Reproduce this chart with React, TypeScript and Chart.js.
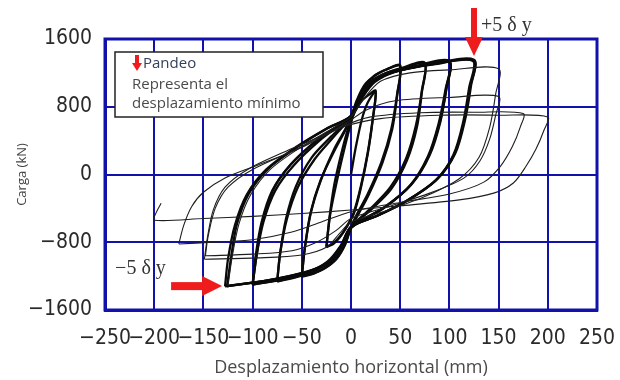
import { useEffect, useRef } from "react";
import { Chart, registerables } from "chart.js";

Chart.register(...registerables);

// ---------- axis ticks ----------
const xTicks = [-250, -200, -150, -100, -50, 0, 50, 100, 150, 200, 250];
const yTicks = [-1600, -800, 0, 800, 1600];

// ---------- labels ----------
const xTitle = "Desplazamiento horizontal (mm)";
const yTitle = "Carga (kN)";
const legendLines = ["Pandeo", "Representa el", "desplazamiento mínimo"];
const posLabel = "+5 δ y";
const negLabel = "−5 δ y";
const posMark = [125, 1400]; // arrow tip (mm, kN)
const negMark = [-131, -1318];

// ---------- hysteresis cycles (mm, kN) : bold, before buckling ----------
const c25a = [[0, 0], [5, 330], [11, 650], [17, 850], [25, 980], [22, 650], [17, 260], [10, -140], [3, -440], [-4, -610], [-11, -730], [-18, -810], [-25, -860]];
const c25b = [[-25, -860], [-22, -520], [-17, -120], [-10, 240], [-3, 540], [4, 740], [11, 870], [18, 940], [25, 990], [22, 640], [17, 240], [10, -160], [3, -460], [-5, -630], [-12, -750], [-18, -820], [-25, -850]];
const c50a = [[-25, -850], [-21, -460], [-14, -60], [-6, 340], [0, 610], [6, 830], [14, 1040], [24, 1170], [36, 1240], [50, 1290], [47, 960], [41, 540], [31, 150], [17, -230], [6, -470], [0, -620], [-6, -820], [-14, -980], [-26, -1100], [-38, -1170], [-50, -1210]];
const c50b = [[-50, -1210], [-47, -880], [-41, -460], [-31, -80], [-17, 300], [-6, 530], [0, 680], [6, 880], [14, 1060], [26, 1180], [38, 1250], [50, 1280], [47, 940], [42, 540], [32, 140], [18, -240], [7, -480], [0, -630], [-6, -830], [-15, -1000], [-27, -1110], [-39, -1170], [-50, -1200]];
const c75a = [[-50, -1200], [-47, -870], [-41, -450], [-31, -70], [-16, 300], [-5, 540], [0, 680], [7, 880], [16, 1060], [32, 1180], [52, 1260], [75, 1320], [72, 990], [66, 580], [56, 190], [40, -150], [20, -400], [0, -620], [-7, -820], [-16, -990], [-32, -1110], [-52, -1200], [-75, -1265]];
const c75b = [[-75, -1265], [-72, -930], [-66, -520], [-56, -140], [-40, 200], [-20, 450], [0, 680], [8, 890], [18, 1070], [34, 1190], [54, 1260], [75, 1310], [72, 970], [67, 560], [57, 170], [41, -170], [21, -410], [0, -630], [-8, -830], [-18, -1000], [-34, -1120], [-54, -1200], [-75, -1260]];
const c100a = [[-75, -1260], [-72, -930], [-65, -520], [-54, -150], [-37, 180], [-18, 440], [0, 685], [8, 890], [18, 1070], [36, 1190], [65, 1280], [100, 1340], [97, 1030], [91, 630], [80, 230], [62, -110], [35, -380], [0, -625], [-8, -830], [-18, -1000], [-36, -1120], [-65, -1220], [-100, -1295]];
const c100b = [[-100, -1295], [-97, -970], [-91, -570], [-80, -190], [-62, 110], [-35, 400], [0, 690], [9, 895], [20, 1080], [38, 1200], [67, 1280], [100, 1330], [97, 1010], [90, 610], [79, 220], [61, -120], [34, -390], [0, -630], [-9, -840], [-20, -1010], [-38, -1130], [-67, -1230], [-100, -1300]];
const c100c = [[-100, -1300], [-96, -960], [-90, -560], [-79, -180], [-61, 120], [-34, 410], [0, 690], [10, 900], [22, 1085], [40, 1200], [68, 1275], [100, 1325], [96, 1000], [89, 600], [78, 210], [60, -130], [33, -395], [0, -630], [-10, -845], [-22, -1020], [-40, -1140], [-68, -1235], [-100, -1300]];
const c125a = [[-100, -1300], [-96, -960], [-89, -560], [-77, -190], [-58, 110], [-30, 420], [0, 690], [9, 890], [20, 1080], [40, 1200], [80, 1300], [125, 1355], [122, 1050], [116, 650], [106, 250], [88, -50], [58, -300], [28, -480], [0, -620], [-9, -830], [-20, -1010], [-40, -1130], [-80, -1240], [-128, -1320]];
const c125b = [[-128, -1320], [-125, -1000], [-118, -600], [-106, -240], [-86, 60], [-55, 330], [-25, 540], [0, 690], [10, 895], [22, 1085], [42, 1205], [82, 1300], [125, 1345], [121, 1030], [115, 630], [105, 240], [87, -60], [57, -310], [27, -485], [0, -620], [-10, -840], [-22, -1020], [-42, -1140], [-82, -1245], [-126, -1320]];
const c125c = [[-126, -1320], [-122, -990], [-116, -590], [-104, -230], [-84, 70], [-53, 335], [-24, 545], [0, 690], [11, 900], [24, 1090], [44, 1210], [84, 1300], [124, 1340], [120, 1020], [114, 620], [104, 230], [86, -70], [56, -315], [26, -490], [0, -620], [-11, -850], [-24, -1030], [-44, -1150], [-84, -1250], [-125, -1315]];

// ---------- hysteresis cycles (mm, kN) : thin, after buckling ----------
const t150a = [[-125, -1315], [-121, -990], [-114, -590], [-102, -240], [-82, 60], [-50, 330], [-18, 550], [0, 680], [12, 880], [30, 1100], [60, 1200], [100, 1235], [150, 1250], [147, 950], [141, 560], [130, 200], [110, -50], [75, -260], [35, -430], [0, -560], [-12, -700], [-25, -860], [-50, -950], [-95, -985], [-149, -1000]];
const t150b = [[-149, -1000], [-146, -750], [-140, -420], [-128, -150], [-105, 60], [-65, 280], [-25, 480], [-3, 620], [15, 760], [45, 870], [100, 910], [150, 920], [147, 700], [141, 420], [131, 160], [115, -40], [80, -220], [35, -390], [0, -520], [-15, -660], [-35, -800], [-60, -900], [-100, -940], [-148, -960]];
const t175 = [[-148, -960], [-145, -720], [-138, -400], [-125, -150], [-100, 60], [-55, 300], [-10, 560], [20, 680], [70, 730], [125, 735], [175, 720], [172, 560], [164, 330], [152, 100], [135, -90], [100, -230], [50, -330], [0, -440], [-30, -560], [-60, -680], [-100, -770], [-140, -800], [-175, -820]];
const t200 = [[-175, -820], [-170, -600], [-162, -380], [-150, -210], [-128, -40], [-95, 110], [-50, 320], [-8, 560], [30, 660], [90, 700], [150, 700], [200, 680], [196, 520], [188, 300], [178, 100], [165, -100], [145, -220], [110, -300], [50, -370], [0, -420], [-50, -460], [-100, -495], [-150, -520], [-200, -540], [-198, -450], [-193, -340]];

const boldCycles = [c25a, c25b, c50a, c50b, c75a, c75b, c100a, c100b, c100c, c125a, c125b, c125c];
const thinCycles = [t150a, t150b, t175, t200];

const BLUE = "#1212aa";
const RED = "#ee1c1c";
const minus = (v: number) => (v < 0 ? "\u2212" + Math.abs(v) : String(v));

const overlayPlugin = {
  id: "overlay",
  beforeDatasetsDraw(chart: any) {
    const { ctx, chartArea: a } = chart;
    ctx.save();
    ctx.strokeStyle = BLUE;
    ctx.lineWidth = 3;
    ctx.strokeRect(a.left, a.top, a.right - a.left, a.bottom - a.top);
    ctx.restore();
  },
  afterDraw(chart: any) {
    const { ctx, chartArea: a, scales } = chart;
    const xs = scales.x, ys = scales.y;
    ctx.save();

    // legend box
    const bx = a.left + 10, by = a.top + 13, bw = 208, bh = 65;
    ctx.fillStyle = "#ffffff";
    ctx.fillRect(bx, by, bw, bh);
    ctx.strokeStyle = "#222";
    ctx.lineWidth = 1.5;
    ctx.strokeRect(bx, by, bw, bh);
    const lx = bx + 22, ly = by + 3;
    ctx.fillStyle = RED;
    ctx.fillRect(lx - 2, ly, 4, 9);
    ctx.beginPath();
    ctx.moveTo(lx - 5, ly + 8);
    ctx.lineTo(lx + 5, ly + 8);
    ctx.lineTo(lx, ly + 16);
    ctx.closePath();
    ctx.fill();
    ctx.font = "15px 'Open Sans', 'Noto Sans', sans-serif";
    ctx.textBaseline = "middle";
    ctx.textAlign = "left";
    ctx.fillStyle = "#34405a";
    ctx.fillText(legendLines[0], bx + 28, by + 12);
    ctx.fillStyle = "#4a4a4a";
    ctx.fillText(legendLines[1], bx + 17, by + 33);
    ctx.fillText(legendLines[2], bx + 17, by + 52);

    // top arrow (+5 dy)
    const px = xs.getPixelForValue(posMark[0]);
    const py = ys.getPixelForValue(posMark[1]);
    ctx.fillStyle = RED;
    ctx.fillRect(px - 3, 8, 6, py - 8 - 17);
    ctx.beginPath();
    ctx.moveTo(px - 9, py - 19);
    ctx.lineTo(px + 9, py - 19);
    ctx.lineTo(px, py);
    ctx.closePath();
    ctx.fill();
    ctx.fillStyle = "#333";
    ctx.font = "20px 'Liberation Serif', 'DejaVu Serif', serif";
    ctx.textBaseline = "middle";
    ctx.fillText(posLabel, px + 7, 26);

    // left arrow (-5 dy)
    const nx = xs.getPixelForValue(negMark[0]);
    const ny = ys.getPixelForValue(negMark[1]);
    ctx.fillStyle = RED;
    ctx.fillRect(nx - 51, ny - 4, 33, 8);
    ctx.beginPath();
    ctx.moveTo(nx - 20, ny - 10);
    ctx.lineTo(nx - 20, ny + 10);
    ctx.lineTo(nx, ny);
    ctx.closePath();
    ctx.fill();
    ctx.fillStyle = "#333";
    ctx.fillText(negLabel, nx - 107, ny - 17);
    ctx.restore();
  },
};

export default function App() {
  const ref = useRef<HTMLCanvasElement | null>(null);
  useEffect(() => {
    if (!ref.current) return;
    const toPts = (c: number[][]) => c.map(([x, y]) => ({ x, y }));
    const datasets = [
      ...thinCycles.map((c) => ({
        data: toPts(c),
        borderColor: "#1e1e1e",
        borderWidth: 1.1,
      })),
      ...boldCycles.map((c) => ({
        data: toPts(c),
        borderColor: "#0a0a0a",
        borderWidth: 2.3,
      })),
    ].map((d) => ({ ...d, showLine: true, pointRadius: 0, tension: 0.3, fill: false }));

    const tickFont = { family: "'Liberation Sans Narrow', 'DejaVu Sans Condensed', 'Liberation Sans', sans-serif", size: 21 };
    const chart = new Chart(ref.current, {
      type: "scatter",
      data: { datasets },
      options: {
        animation: false,
        responsive: true,
        maintainAspectRatio: false,
        layout: { padding: { left: 0, right: 23, top: 39, bottom: 0 } },
        plugins: { legend: { display: false }, tooltip: { enabled: false } },
        scales: {
          x: {
            type: "linear",
            min: -250,
            max: 250,
            afterBuildTicks: (s: any) => { s.ticks = xTicks.map((v) => ({ value: v })); },
            afterFit: (s: any) => { s.height = 70; s.paddingLeft = 0; s.paddingRight = 0; },
            ticks: { callback: (v: any) => minus(Number(v)), color: "#2a2a2a", font: tickFont, padding: 16, maxRotation: 0, autoSkip: false },
            grid: { color: BLUE, lineWidth: 2, drawTicks: false },
            border: { color: BLUE, width: 3 },
            title: { display: true, text: xTitle, color: "#4a4a4a", font: { family: "'Open Sans', 'Noto Sans', sans-serif", size: 18 }, padding: { top: 0, bottom: 1 } },
          },
          y: {
            type: "linear",
            min: -1600,
            max: 1600,
            afterBuildTicks: (s: any) => { s.ticks = yTicks.map((v) => ({ value: v })); },
            afterFit: (s: any) => { s.width = 105; s.paddingTop = 0; s.paddingBottom = 0; },
            ticks: { callback: (v: any) => minus(Number(v)), color: "#2a2a2a", font: tickFont, padding: 13, autoSkip: false },
            grid: { color: BLUE, lineWidth: 2, drawTicks: false },
            border: { color: BLUE, width: 3 },
            title: { display: true, text: yTitle, color: "#444", font: { family: "'Open Sans', 'Noto Sans', sans-serif", size: 13 }, padding: { top: 14, bottom: 0 } },
          },
        },
      },
      plugins: [overlayPlugin],
    });
    return () => chart.destroy();
  }, []);
  return (
    <div style={{ position: "absolute", left: 0, top: 0, width: 620, height: 380, background: "#fff" }}>
      <canvas ref={ref} />
    </div>
  );
}
